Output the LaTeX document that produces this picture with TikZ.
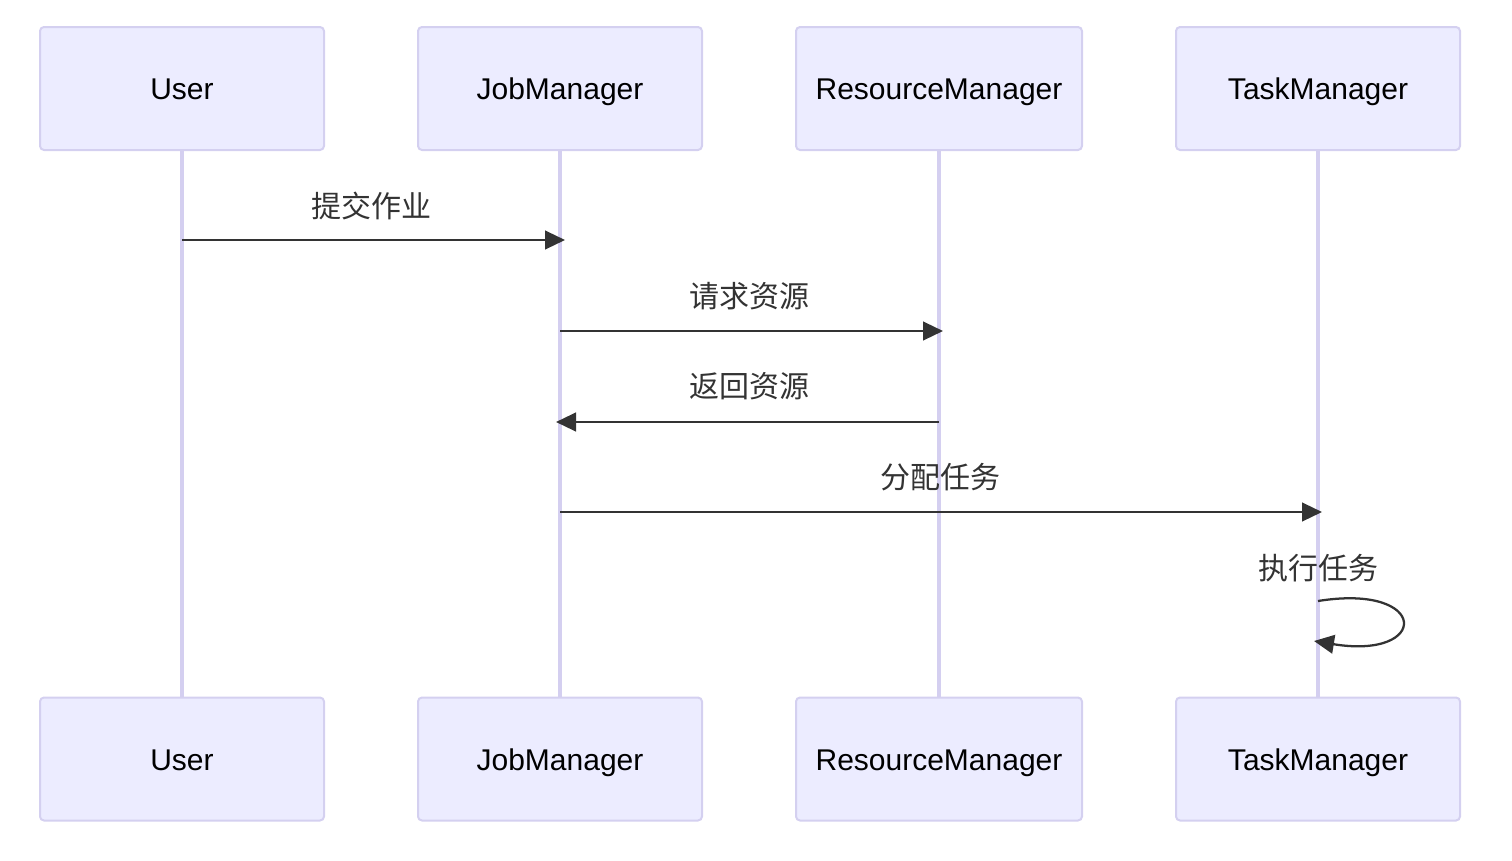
\documentclass[tikz,border=0pt]{standalone}
\usepackage{fontspec}
\setmainfont{Liberation Sans}
\newfontfamily\cjk{Noto Sans CJK SC}
\usetikzlibrary{arrows.meta}
\definecolor{boxfill}{HTML}{ECECFF}
\definecolor{boxline}{HTML}{D4D0F0}
\definecolor{lifeline}{HTML}{D4CFF0}
\definecolor{msg}{HTML}{333333}
\tikzset{
  actor/.style={draw=boxline, line width=1.5pt, fill=boxfill, rounded corners=3pt,
    minimum width=284*0.75pt, minimum height=123*0.75pt, inner sep=0pt,
    text height=19pt, text depth=2pt,
    font=\fontsize{22.5}{26}\selectfont, text=black},
  life/.style={draw=lifeline, line width=2.4pt},
  message/.style={draw=msg, line width=1.7pt, -{Triangle[length=15pt,width=14pt]}},
  msglabel/.style={font=\cjk\fontsize{22.5}{26}\selectfont, text=msg, inner sep=0pt}
}
\begin{document}
\begin{tikzpicture}[x=0.75pt,y=-0.75pt]
\useasboundingbox (0,0) rectangle (1512,860);
% lifelines first (behind boxes)
\foreach \n/\x in {u/182,j/560,r/939,t/1318}{
  \coordinate (\n top) at (\x,150);
  \coordinate (\n bot) at (\x,697);
}
\draw[life] (utop) -- (ubot);
\draw[life] (jtop) -- (jbot);
\draw[life] (rtop) -- (rbot);
\draw[life] (ttop) -- (tbot);
% actors
\node[actor] (u1) at (182,88.5) {User};
\node[actor] (j1) at (560,88.5) {JobManager};
\node[actor, minimum width=286*0.75pt] (r1) at (939,88.5) {ResourceManager};
\node[actor] (t1) at (1318,88.5) {TaskManager};
\node[actor] (u2) at (182,759) {User};
\node[actor] (j2) at (560,759) {JobManager};
\node[actor, minimum width=286*0.75pt] (r2) at (939,759) {ResourceManager};
\node[actor] (t2) at (1318,759) {TaskManager};
% message anchor points
\coordinate (m1a) at (182,240); \coordinate (m1b) at (565,240);
\coordinate (m2a) at (560,331); \coordinate (m2b) at (943,331);
\coordinate (m3a) at (939,422); \coordinate (m3b) at (556,422);
\coordinate (m4a) at (560,512); \coordinate (m4b) at (1322,512);
\coordinate (m5a) at (1318,601); \coordinate (m5b) at (1314,641);
\draw[message] (m1a) -- (m1b);
\draw[message] (m2a) -- (m2b);
\draw[message] (m3a) -- (m3b);
\draw[message] (m4a) -- (m4b);
\draw[message] (m5a) .. controls (1430,583) and (1430,660) .. (m5b);
% labels
\node[msglabel] (l1) at (371,206) {提交作业};
\node[msglabel] (l2) at (749,296) {请求资源};
\node[msglabel] (l3) at (749,386) {返回资源};
\node[msglabel] (l4) at (940,477) {分配任务};
\node[msglabel] (l5) at (1318,568) {执行任务};
\end{tikzpicture}
\end{document}
